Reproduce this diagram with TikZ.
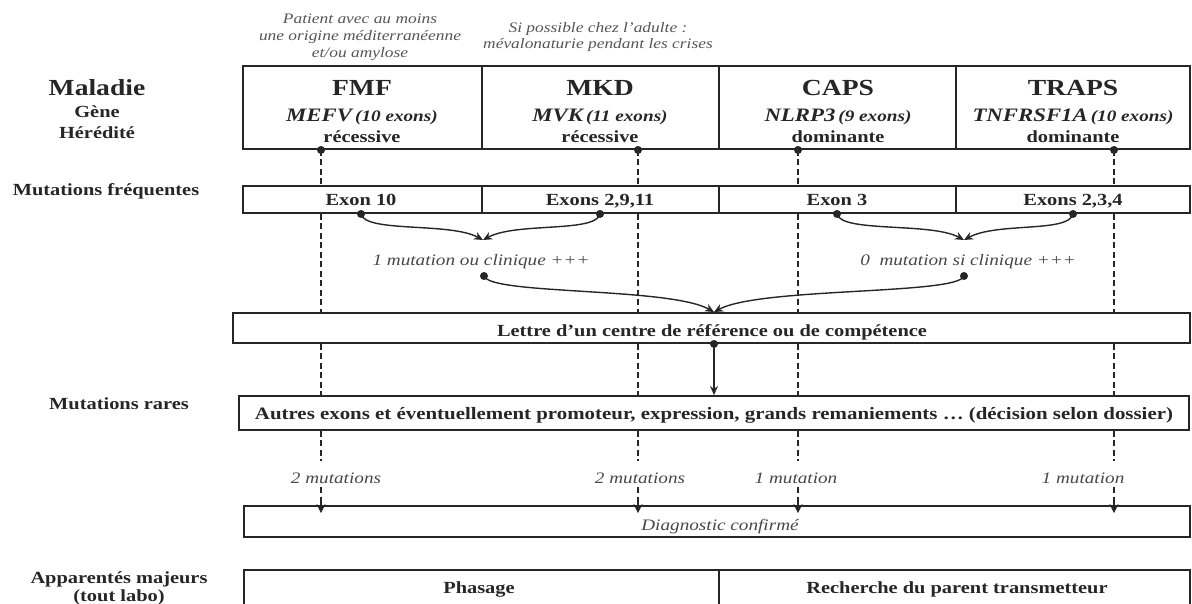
\documentclass[tikz,border=0pt]{standalone}
\usepackage{fontspec}
\setmainfont{Liberation Serif}
\usetikzlibrary{arrows.meta}
\definecolor{ink}{HTML}{262626}
\definecolor{notec}{HTML}{555555}
\newcommand\sx[1]{\scalebox{1.2}[1]{#1}}
\newcommand\fs[1]{\fontsize{#1}{#1}\selectfont}
\begin{document}
\begin{tikzpicture}[x=1pt,y=-1pt,
  box/.style={draw=ink, line width=1.9pt, inner sep=0pt},
  bt/.style={text=ink, font=\bfseries\fs{17}, inner sep=0pt, anchor=base},
  it/.style={text=ink!85, font=\itshape\fs{16}, inner sep=0pt, anchor=base},
  nt/.style={text=notec, font=\itshape\fs{14.5}, inner sep=0pt, anchor=base},
  dl/.style={draw=ink, line width=2.3pt, dash pattern=on 6pt off 3.5pt},
  cv/.style={draw=ink, line width=1.4pt, -{Stealth[length=9pt,width=8pt]}},
  sa/.style={draw=ink, line width=1.3pt, -{Stealth[length=9pt,width=8pt]}},
  dot/.style={fill=ink}]
\useasboundingbox (0,0) rectangle (1192,603);
\clip (0,0) rectangle (1192,603);

% ---- column x positions for dashed lines
\coordinate (xF) at (321,0);
\coordinate (xM) at (638,0);
\coordinate (xC) at (798,0);
\coordinate (xT) at (1114,0);

% ---- left labels
\node[bt, font=\bfseries\fs{23}] (lmal) at (97,95) {\sx{Maladie}};
\node[bt] (lgen) at (97,117) {\sx{Gène}};
\node[bt] (lher) at (97,138) {\sx{Hérédité}};
\node[bt] (lfreq) at (106,195) {\sx{Mutations fréquentes}};
\node[bt] (lrare) at (119,409) {\sx{Mutations rares}};
\node[bt] (lapp) at (119,583) {\sx{Apparentés majeurs}};
\node[bt] (ltout) at (119,601) {\sx{(tout labo)}};

% ---- notes above
\node[nt] (n1a) at (360,23) {\sx{Patient avec au moins}};
\node[nt] (n1b) at (360,40) {\sx{une origine méditerranéenne}};
\node[nt] (n1c) at (360,57) {\sx{et/ou amylose}};
\node[nt] (n2a) at (598,32) {\sx{Si possible chez l'adulte :}};
\node[nt] (n2b) at (598,48) {\sx{mévalonaturie pendant les crises}};

% ---- top table
\node[box, minimum width=239pt, minimum height=83pt] (fmf) at (362.5,107.5) {};
\node[box, minimum width=237pt, minimum height=83pt] (mkd) at (600.5,107.5) {};
\node[box, minimum width=237pt, minimum height=83pt] (caps) at (837.5,107.5) {};
\node[box, minimum width=234pt, minimum height=83pt] (traps) at (1073,107.5) {};

\node[bt, font=\bfseries\fs{23}] (t1) at (362,95) {\sx{FMF}};
\node[bt, font=\bfseries\fs{23}] (t2) at (600,95) {\sx{MKD}};
\node[bt, font=\bfseries\fs{23}] (t3) at (838,95) {\sx{CAPS}};
\node[bt, font=\bfseries\fs{23}] (t4) at (1073,95) {\sx{TRAPS}};

\node[bt, font=\bfseries\itshape] (g1) at (362,121) {\sx{{\fs{19}MEFV} {\fs{16}(10 exons)}}};
\node[bt, font=\bfseries\itshape] (g2) at (600,121) {\sx{{\fs{19}MVK} {\fs{16}(11 exons)}}};
\node[bt, font=\bfseries\itshape] (g3) at (838,121) {\sx{{\fs{19}NLRP3} {\fs{16}(9 exons)}}};
\node[bt, font=\bfseries\itshape] (g4) at (1073,121) {\sx{{\fs{19}TNFRSF1A} {\fs{16}(10 exons)}}};

\node[bt] (h1) at (362,142) {\sx{récessive}};
\node[bt] (h2) at (600,142) {\sx{récessive}};
\node[bt] (h3) at (838,142) {\sx{dominante}};
\node[bt] (h4) at (1073,142) {\sx{dominante}};

% ---- frequent mutations row
\node[box, minimum width=239pt, minimum height=27pt] (q1) at (362.5,199.5) {};
\node[box, minimum width=237pt, minimum height=27pt] (q2) at (600.5,199.5) {};
\node[box, minimum width=237pt, minimum height=27pt] (q3) at (837.5,199.5) {};
\node[box, minimum width=234pt, minimum height=27pt] (q4) at (1073,199.5) {};
\node[bt] (e1) at (361,205) {\sx{Exon 10}};
\node[bt] (e2) at (600,205) {\sx{Exons 2,9,11}};
\node[bt] (e3) at (837,205) {\sx{Exon 3}};
\node[bt] (e4) at (1073,205) {\sx{Exons 2,3,4}};

% ---- lettre / autres / diagnostic / bottom
\node[box, minimum width=957pt, minimum height=30pt] (lettre) at (711.5,328) {};
\node[bt] (lettret) at (712,336) {\sx{Lettre d'un centre de référence ou de compétence}};
\node[box, minimum width=950pt, minimum height=34pt] (autres) at (714,413) {};
\node[bt, font=\bfseries\fs{17.4}] (autrest) at (714,419) {\sx{Autres exons et éventuellement promoteur, expression, grands remaniements … (décision selon dossier)}};
\node[box, minimum width=946pt, minimum height=31pt] (diag) at (717,521.5) {};
\node[it] (diagt) at (720,530) {\sx{Diagnostic confirmé}};
\node[box, minimum width=475pt, minimum height=50pt] (phas) at (481.5,595) {};
\node[box, minimum width=471pt, minimum height=50pt] (rech) at (954.5,595) {};
\node[bt] (phast) at (479,593) {\sx{Phasage}};
\node[bt] (recht) at (957,593) {\sx{Recherche du parent transmetteur}};

% ---- middle texts
\node[it] (m1t) at (481,265) {\sx{1 mutation ou clinique +++}};
\node[it] (m2t) at (968,265) {\sx{0~ mutation si clinique +++}};
\coordinate (m1) at (483,240);
\coordinate (m2) at (964,240);
\coordinate (p1) at (484,276);
\coordinate (p2) at (964,276);
\coordinate (lx) at (714,0);

% ---- mutation labels
\node[it] (r1) at (336,483) {\sx{2 mutations}};
\node[it] (r2) at (640,483) {\sx{2 mutations}};
\node[it] (r3) at (796,483) {\sx{1 mutation}};
\node[it] (r4) at (1083,483) {\sx{1 mutation}};

% ---- dashed vertical lines
\foreach \c/\top in {xF/fmf, xM/mkd, xC/caps, xT/traps}{
  \fill[dot] (\c |- \top.south) circle (4pt);
  \draw[dl] (\c |- \top.south) -- (\c |- q1.north);
  \draw[dl] (\c |- q1.south) -- (\c |- lettre.north);
  \draw[dl] (\c |- lettre.south) -- (\c |- autres.north);
  \draw[dl] (\c |- autres.south) -- ([yshift=-30pt]\c |- autres.south);
  \draw[dl] ([yshift=18pt]\c |- diag.north) -- ([yshift=3pt]\c |- diag.north);
  \draw[draw=ink, line width=1.4pt, -{Stealth[length=9pt,width=9pt]}] ([yshift=3pt]\c |- diag.north) -- ([yshift=-8pt]\c |- diag.north);
}

% ---- curved arrows
\fill[dot] (e1 |- q1.south) circle (4pt);
\fill[dot] (e2 |- q2.south) circle (4pt);
\fill[dot] (e3 |- q3.south) circle (4pt);
\fill[dot] (e4 |- q4.south) circle (4pt);
\draw[cv] (e1 |- q1.south) .. controls +(4,19) and +(-33,-18) .. (m1);
\draw[cv] (e2 |- q2.south) .. controls +(-4,19) and +(33,-18) .. (m1);
\draw[cv] (e3 |- q3.south) .. controls +(4,19) and +(-33,-18) .. (m2);
\draw[cv] (e4 |- q4.south) .. controls +(-4,19) and +(33,-18) .. (m2);

\fill[dot] (p1) circle (4pt);
\fill[dot] (p2) circle (4pt);
\draw[cv] (p1) .. controls +(6,19) and +(-44,-25) .. (lx |- lettre.north);
\draw[cv] (p2) .. controls +(-6,19) and +(46,-25) .. (lx |- lettre.north);

% ---- lettre to autres
\fill[dot] (lx |- lettre.south) circle (4pt);
\draw[sa] (lx |- lettre.south) -- (lx |- autres.north);
\end{tikzpicture}
\end{document}
